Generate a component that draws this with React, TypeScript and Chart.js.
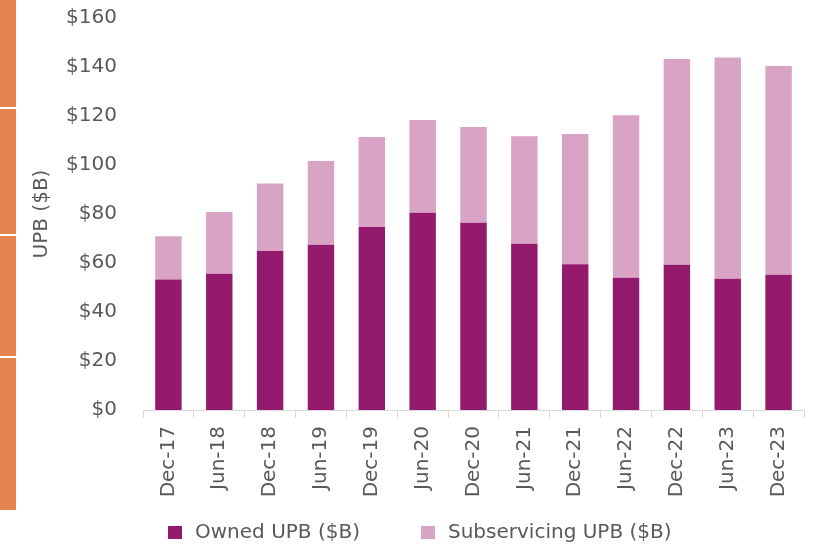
import React, { useEffect, useRef } from "react";
import { Chart, registerables } from "chart.js";

Chart.register(...registerables);

const categories = [
  "Dec-17", "Jun-18", "Dec-18", "Jun-19", "Dec-19", "Jun-20", "Dec-20",
  "Jun-21", "Dec-21", "Jun-22", "Dec-22", "Jun-23", "Dec-23",
];
const ownedUPB = [53.3, 55.6, 64.9, 67.5, 74.7, 80.5, 76.4, 67.9, 59.5, 54.0, 59.3, 53.6, 55.2];
const subservicingUPB = [17.6, 25.2, 27.6, 34.1, 36.7, 37.9, 39.1, 43.8, 53.2, 66.3, 84.0, 90.3, 85.2];
const yTicks = [0, 20, 40, 60, 80, 100, 120, 140, 160];

const seriesNames = ["Owned UPB ($B)", "Subservicing UPB ($B)"];
const FONT = "'DejaVu Sans', Verdana, sans-serif";
const TEXT = "#595959";

// legend drawn on the chart canvas below the axis
const legendItemX = [168, 421];
const customLegend = {
  id: "customLegend",
  afterDraw(chart: any) {
    const ctx = chart.ctx;
    ctx.save();
    ctx.font = `20px ${FONT}`;
    ctx.textBaseline = "middle";
    ctx.textAlign = "left";
    chart.data.datasets.forEach((ds: any, i: number) => {
      const x = legendItemX[i];
      ctx.fillStyle = ds.backgroundColor;
      ctx.fillRect(x, 526, 14, 13);
      ctx.fillStyle = TEXT;
      ctx.fillText(ds.label, x + 27, 533);
    });
    ctx.restore();
  },
};

export default function App() {
  const ref = useRef<HTMLCanvasElement | null>(null);
  useEffect(() => {
    if (!ref.current) return;
    const chart = new Chart(ref.current, {
      type: "bar",
      data: {
        labels: categories,
        datasets: [
          {
            label: seriesNames[0],
            data: ownedUPB,
            backgroundColor: "#941A6E",
            borderWidth: 0,
            categoryPercentage: 1,
            barPercentage: 0.52,
          },
          {
            label: seriesNames[1],
            data: subservicingUPB,
            backgroundColor: "#D9A3C6",
            borderWidth: 0,
            categoryPercentage: 1,
            barPercentage: 0.52,
          },
        ],
      },
      options: {
        animation: false,
        responsive: false,
        devicePixelRatio: 1,
        layout: { padding: { top: 18, left: 0, right: 17, bottom: 0 } },
        plugins: {
          tooltip: { enabled: false },
          legend: { display: false },
        },
        scales: {
          x: {
            stacked: true,
            afterFit: (s: any) => {
              s.height = 135;
            },
            grid: {
              display: true,
              drawOnChartArea: false,
              drawTicks: true,
              tickLength: 8,
              color: "#D9D9D9",
              offset: true,
            },
            border: { display: true, color: "#D9D9D9", width: 1 },
            ticks: {
              autoSkip: false,
              maxRotation: 90,
              minRotation: 90,
              padding: 8,
              color: TEXT,
              font: { family: FONT, size: 20 },
            },
          },
          y: {
            stacked: true,
            min: 0,
            max: 160,
            afterFit: (s: any) => {
              s.width = 143;
            },
            afterBuildTicks: (s: any) => {
              s.ticks = yTicks.map((v) => ({ value: v }));
            },
            grid: { display: false, drawTicks: true, tickLength: 21 },
            border: { display: false },
            ticks: {
              padding: 5,
              color: TEXT,
              font: { family: FONT, size: 20 },
              callback: (v: any) => "$" + v,
            },
            title: {
              display: true,
              text: "UPB ($B)",
              color: TEXT,
              font: { family: FONT, size: 20 },
              padding: { top: 30, bottom: 0 },
            },
          },
        },
      },
      plugins: [customLegend],
    });
    return () => chart.destroy();
  }, []);

  const sep = (top: number) => (
    <div style={{ position: "absolute", left: 0, top, width: 16, height: 2, background: "#FFFFFF" }} />
  );

  return (
    <div style={{ position: "fixed", left: 0, top: 0, width: 821, height: 545, background: "#FFFFFF" }}>
      <canvas ref={ref} width={821} height={545} style={{ position: "absolute", left: 0, top: 0, width: 821, height: 545 }} />
      <div style={{ position: "absolute", left: 0, top: 0, width: 16, height: 510, background: "#E6834E" }} />
      {sep(107)}
      {sep(234)}
      {sep(356)}
    </div>
  );
}
